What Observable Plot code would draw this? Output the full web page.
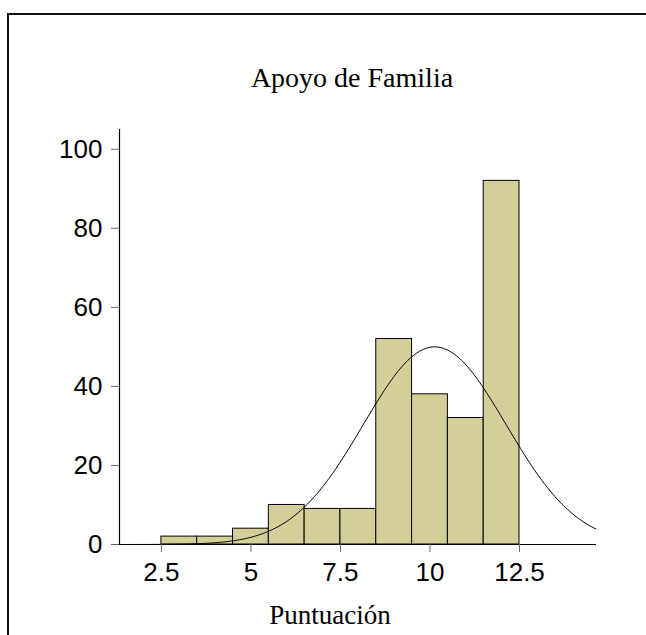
<!DOCTYPE html>
<html><head><meta charset="utf-8">
<script src="https://cdn.jsdelivr.net/npm/d3@7"></script>
<script src="https://cdn.jsdelivr.net/npm/@observablehq/plot@0.6"></script>
<style>
body{margin:0;background:#fff;}
#wrap{position:relative;width:646px;height:635px;overflow:hidden;background:#fff;}
#frame{position:absolute;left:7px;top:13px;width:700px;height:700px;border-top:2px solid #111;border-left:2px solid #111;}
#title{position:absolute;left:152px;width:400px;top:64px;text-align:center;font:28px/28px "Liberation Serif","Times New Roman",serif;color:#000;white-space:nowrap;}
#xlab{position:absolute;left:180px;width:300px;top:602px;text-align:center;font:27px/27px "Liberation Serif","Times New Roman",serif;color:#000;white-space:nowrap;}
#chart{position:absolute;left:0;top:100px;}
</style></head>
<body><div id="wrap"><div id="frame"></div><div id="title">Apoyo de Familia</div><div id="chart"></div><div id="xlab">Puntuación</div></div>
<script>
const binStart = [2.5, 3.5, 4.5, 5.5, 6.5, 7.5, 8.5, 9.5, 10.5, 11.5];
const binEnd   = [3.5, 4.5, 5.5, 6.5, 7.5, 8.5, 9.5, 10.5, 11.5, 12.5];
const counts   = [2, 2, 4, 10, 9, 9, 52, 38, 32, 92];
const xTicks = [2.5, 5, 7.5, 10, 12.5];
const yTicks = [0, 20, 40, 60, 80, 100];
const xDomain = [1.33, 14.65];
const yDomain = [0, 105];

const bins = binStart.map((s, i) => ({x1: s, x2: binEnd[i], count: counts[i]}));
// Fitted normal curve (mean and sd derived from the histogram itself)
const n = d3.sum(counts);
const mids = bins.map(b => (b.x1 + b.x2) / 2);
const mean = d3.sum(bins, (b, i) => mids[i] * b.count) / n;
const sd = Math.sqrt(d3.sum(bins, (b, i) => (mids[i] - mean) ** 2 * b.count) / n);
const binWidth = 1;
const curve = d3.range(xDomain[0], xDomain[1] + 1e-9, 0.05).map(x => ({
  x, y: n * binWidth / (sd * Math.sqrt(2 * Math.PI)) * Math.exp(-0.5 * ((x - mean) / sd) ** 2)
}));

const chart = Plot.plot({
  width: 646, height: 535,
  marginLeft: 119, marginRight: 50, marginTop: 29, marginBottom: 91,
  x: {domain: xDomain},
  y: {domain: yDomain},
  style: {fontFamily: '"Liberation Sans", Arial, sans-serif', fontSize: "26px", color: "#000", background: "transparent", overflow: "visible"},
  marks: [
    Plot.rect(bins, {x1: "x1", x2: "x2", y1: 0, y2: "count", fill: "#d4cf98", stroke: "#000", strokeWidth: 1}),
    Plot.line(curve, {x: "x", y: "y", stroke: "#000", strokeWidth: 1}),
    Plot.ruleX([xDomain[0]], {stroke: "#000", strokeWidth: 1.2}),
    Plot.ruleY([0], {stroke: "#000", strokeWidth: 1}),
    Plot.axisX(xTicks, {tickSize: 8, tickPadding: 10, stroke: "#666", fill: "#000", label: null, tickFormat: d => String(d), fontSize: 26}),
    Plot.axisY(yTicks, {tickSize: 8, tickPadding: 9, stroke: "#666", fill: "#000", label: null, tickFormat: d => String(d), fontSize: 26})
  ]
});
document.getElementById("chart").appendChild(chart);
</script>
</body></html>
